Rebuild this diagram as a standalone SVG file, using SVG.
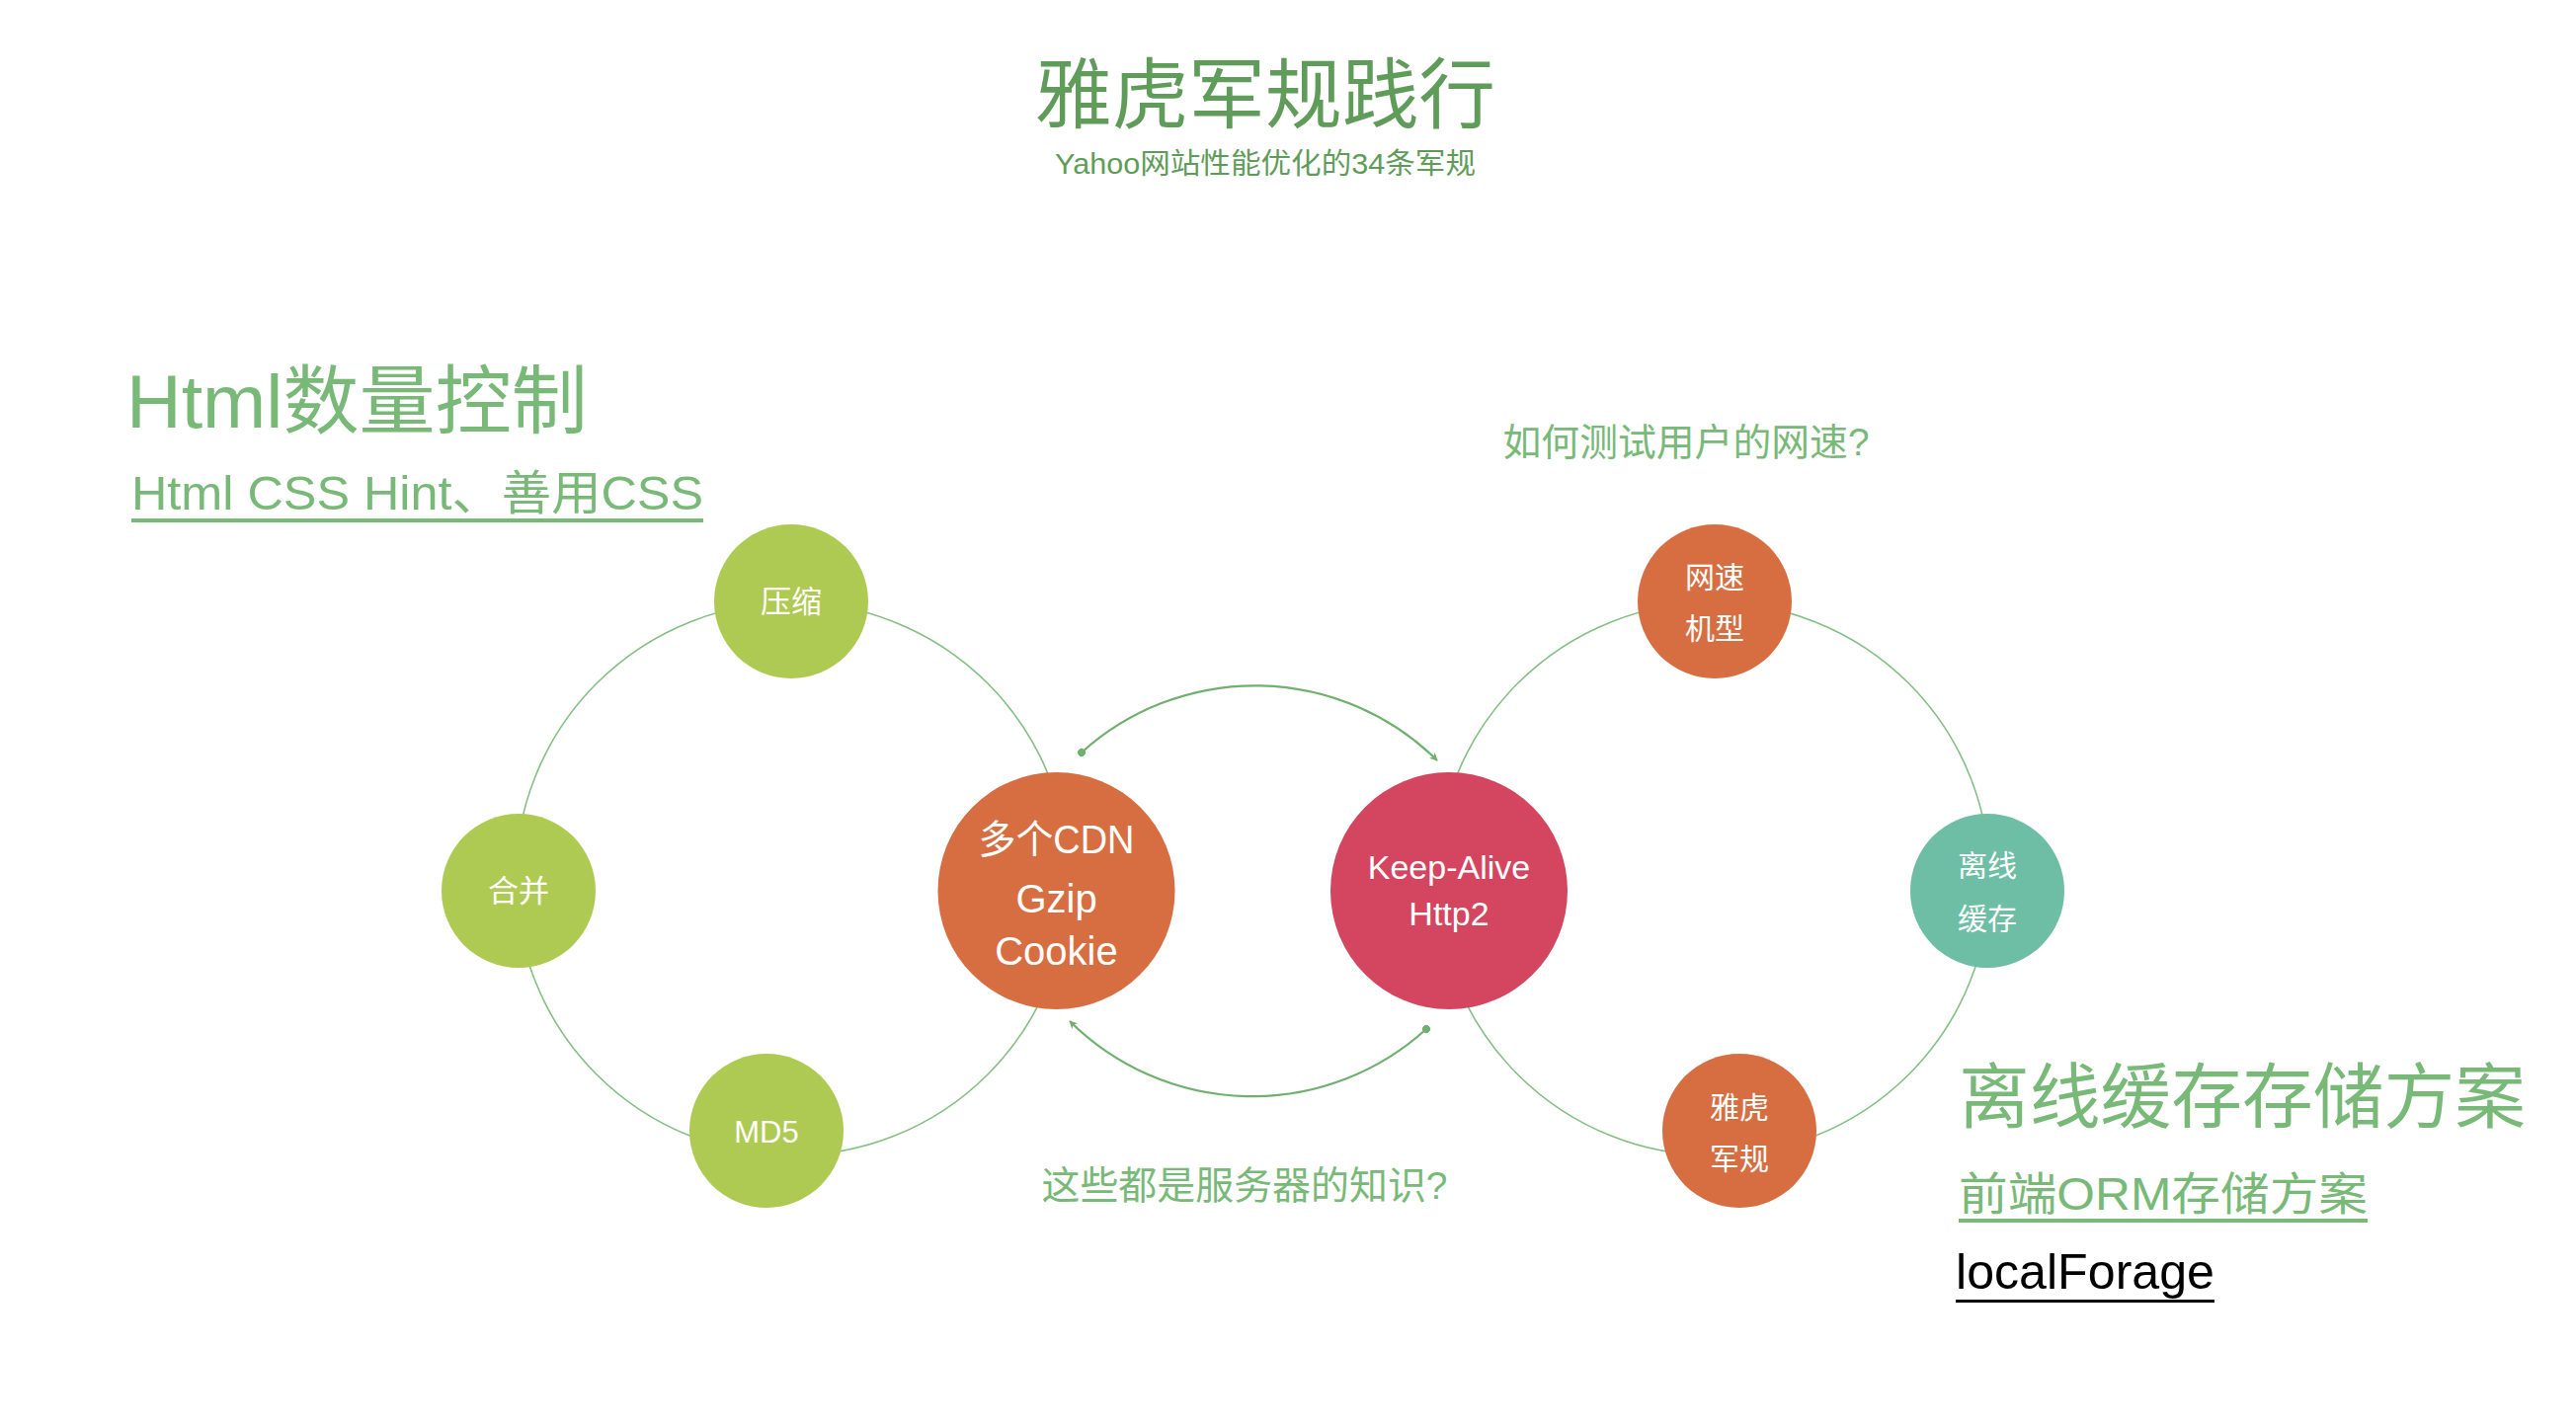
<svg xmlns="http://www.w3.org/2000/svg" width="2608" height="1446" viewBox="0 0 2608 1446">
<style>
text{font-family:"Liberation Sans","Noto Sans CJK SC",sans-serif;}
.ring{fill:none;stroke:#84bf84;stroke-width:1.6;}
.arc{fill:none;stroke:#6fb06f;stroke-width:2.2;}
.lime{fill:#afca53;}
.orange{fill:#d76e42;}
.crimson{fill:#d4455f;}
.teal{fill:#6dbea4;}
.nt{fill:#ffffff;text-anchor:middle;}
.dk{fill:#5f9c5a;}
.lt{fill:#78b978;}
</style>
<defs>
<marker id="arr" viewBox="0 0 10 10" refX="9" refY="5" markerWidth="10" markerHeight="8" orient="auto" markerUnits="userSpaceOnUse">
<path d="M0,0 L10,5 L0,10 L2.5,5 z" fill="#6fb06f"/>
</marker>
<marker id="dot" viewBox="0 0 10 10" refX="5" refY="5" markerWidth="8" markerHeight="8" orient="auto" markerUnits="userSpaceOnUse">
<circle cx="5" cy="5" r="5" fill="#6fb06f"/>
</marker>
</defs>
<rect x="0" y="0" width="2608" height="1446" fill="#ffffff"/>

<g id="headings">
<text class="dk" x="1281" y="124" font-size="78" text-anchor="middle" textLength="466" lengthAdjust="spacingAndGlyphs">雅虎军规践行</text>
<text class="dk" x="1281" y="176" font-size="29" text-anchor="middle" textLength="426" lengthAdjust="spacingAndGlyphs">Yahoo网站性能优化的34条军规</text>
<text class="lt" x="128" y="433" font-size="76" textLength="467" lengthAdjust="spacingAndGlyphs">Html数量控制</text>
<text class="lt" x="133" y="516" font-size="48" textLength="579" lengthAdjust="spacingAndGlyphs">Html CSS Hint、善用CSS</text>
<rect class="lt" x="133" y="525" width="579" height="4"/>
<text class="lt" x="1707" y="461" font-size="38" text-anchor="middle" textLength="371" lengthAdjust="spacingAndGlyphs">如何测试用户的网速?</text>
<text class="lt" x="1260" y="1214" font-size="39" text-anchor="middle" textLength="411" lengthAdjust="spacingAndGlyphs">这些都是服务器的知识?</text>
<text class="lt" x="1983" y="1136" font-size="72" textLength="574" lengthAdjust="spacingAndGlyphs">离线缓存存储方案</text>
<text class="lt" x="1983" y="1225" font-size="46" textLength="414" lengthAdjust="spacingAndGlyphs">前端ORM存储方案</text>
<rect class="lt" x="1983" y="1234" width="414" height="4"/>
<text x="1980" y="1305" font-size="50" fill="#000000" textLength="262" lengthAdjust="spacingAndGlyphs">localForage</text>
<rect x="1980" y="1316" width="262" height="3" fill="#000000"/>
</g>

<g id="connectors">
<circle class="ring" cx="802" cy="890" r="280"/>
<circle class="ring" cx="1734.5" cy="890" r="280"/>
<path class="arc" d="M1095,762 A262,262 0 0 1 1455,770" marker-start="url(#dot)" marker-end="url(#arr)"/>
<path class="arc" d="M1444,1042 A262,262 0 0 1 1083,1034" marker-start="url(#dot)" marker-end="url(#arr)"/>
</g>

<g id="node-yasuo">
<circle class="lime" cx="801" cy="609" r="78"/>
<text class="nt" x="801" y="620" font-size="31">压缩</text>
</g>
<g id="node-hebing">
<circle class="lime" cx="525" cy="902" r="78"/>
<text class="nt" x="525" y="913" font-size="31">合并</text>
</g>
<g id="node-md5">
<circle class="lime" cx="776" cy="1145" r="78"/>
<text class="nt" x="776" y="1157" font-size="31">MD5</text>
</g>
<g id="node-cdn">
<circle class="orange" cx="1069.5" cy="902" r="120"/>
<text class="nt" x="1069.5" y="864" font-size="40" textLength="158" lengthAdjust="spacingAndGlyphs">多个CDN</text>
<text class="nt" x="1069.5" y="924" font-size="40">Gzip</text>
<text class="nt" x="1069.5" y="977" font-size="40">Cookie</text>
</g>
<g id="node-keepalive">
<circle class="crimson" cx="1467" cy="902" r="120"/>
<text class="nt" x="1467" y="890" font-size="34">Keep-Alive</text>
<text class="nt" x="1467" y="937" font-size="34">Http2</text>
</g>
<g id="node-wangsu">
<circle class="orange" cx="1736" cy="609" r="78"/>
<text class="nt" x="1736" y="595" font-size="30">网速</text>
<text class="nt" x="1736" y="647" font-size="30">机型</text>
</g>
<g id="node-lixian">
<circle class="teal" cx="2012" cy="902" r="78"/>
<text class="nt" x="2012" y="887" font-size="30">离线</text>
<text class="nt" x="2012" y="941" font-size="30">缓存</text>
</g>
<g id="node-yahu">
<circle class="orange" cx="1761" cy="1145" r="78"/>
<text class="nt" x="1761" y="1132" font-size="30">雅虎</text>
<text class="nt" x="1761" y="1184" font-size="30">军规</text>
</g>
</svg>
